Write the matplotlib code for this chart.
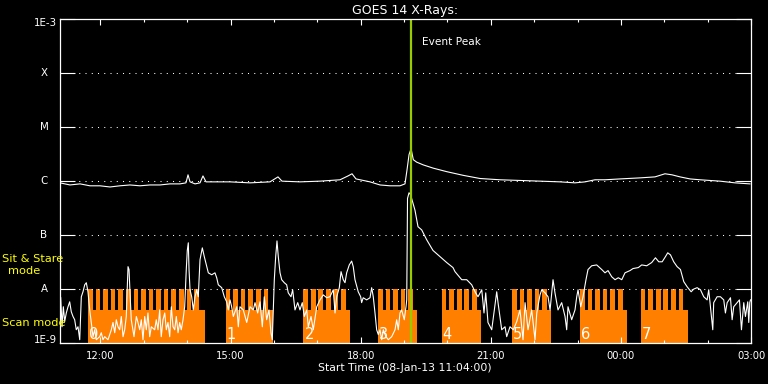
import numpy as np
import matplotlib
matplotlib.use("Agg")
import matplotlib.pyplot as plt
from matplotlib.ticker import NullLocator, FixedLocator
from matplotlib.transforms import blended_transform_factory, offset_copy

# ---------------- data ----------------
# time in minutes after start (08-Jan-13 11:04:00)
long_t = [0, 13.8, 27.7, 41.5, 55.3, 69.2, 83.0, 96.8, 110.7, 124.5, 138.4, 152.2, 166.0,
          174.3, 177.1, 179.9, 186.8, 193.7, 197.8, 202.0, 214.4, 235.2, 262.9, 290.5,
          301.6, 307.1, 332.0, 359.7, 387.4, 398.5, 404.0, 409.5, 428.9, 442.7, 456.6,
          470.4, 477.3, 480.1, 482.9, 485.7, 488.8, 493.5, 502.6, 516.5, 535.0, 558.0,
          581.1, 608.8, 636.4, 664.1, 691.8, 712.5, 726.3, 740.2, 754.0, 774.8, 802.4,
          823.2, 837.0, 846.7, 857.8, 871.6, 885.5, 913.1, 933.8, 954.6]
long_flux = [9.3e-7, 8.5e-7, 8.9e-7, 8.2e-7, 8.2e-7, 7.8e-7, 8.2e-7, 8.5e-7, 8.2e-7, 8.5e-7,
             8.5e-7, 8.9e-7, 8.9e-7, 9.3e-7, 1.31e-6, 9.7e-7, 8.9e-7, 9.3e-7, 1.25e-6,
             9.7e-7, 9.7e-7, 9.7e-7, 9.3e-7, 9.7e-7, 1.2e-6, 1.0e-6, 9.7e-7, 1.0e-6,
             1.06e-6, 1.25e-6, 1.37e-6, 1.1e-6, 9.7e-7, 8.5e-7, 8.2e-7, 8.2e-7, 8.9e-7,
             1.62e-6, 3.1e-6, 4.0e-6, 2.5e-6, 2.25e-6, 2.0e-6, 1.74e-6, 1.5e-6, 1.28e-6,
             1.12e-6, 1.06e-6, 1.03e-6, 1.0e-6, 9.7e-7, 9.3e-7, 9.7e-7, 1.06e-6, 1.06e-6,
             1.1e-6, 1.15e-6, 1.2e-6, 1.37e-6, 1.31e-6, 1.2e-6, 1.1e-6, 1.06e-6, 1.0e-6,
             9.3e-7, 8.9e-7]

short_t = [1.0, 2.8, 4.6, 6.5, 8.7, 11.1, 13.4, 15.6, 18.0, 20.3, 22.5, 24.9, 27.3, 29.5,
           31.8, 34.2, 36.4, 38.7, 41.1, 43.3, 45.7, 48.0, 50.2, 54.9, 57.1, 59.5, 61.9,
           66.4, 71.0, 73.3, 75.7, 77.9, 80.2, 82.6, 84.8, 87.2, 89.5, 91.7, 94.1, 95.5,
           96.8, 98.6, 102.4, 105.6, 107.9, 110.3, 112.5, 114.8, 117.2, 119.4, 121.7,
           124.1, 126.3, 131.0, 133.2, 135.6, 137.9, 140.1, 142.5, 144.9, 147.1, 149.4,
           151.8, 154.0, 156.4, 158.7, 160.9, 163.3, 165.6, 167.8, 170.2, 172.5, 174.7,
           176.1, 177.5, 178.5, 179.9, 182.2, 184.4, 186.8, 189.1, 191.3, 193.7, 196.9,
           199.6, 203.0, 205.2, 209.9, 214.4, 216.8, 219.0, 223.7, 227.3, 230.6, 232.8,
           235.2, 237.5, 239.8, 244.5, 246.7, 249.0, 253.6, 258.3, 262.9, 267.4, 269.8,
           273.5, 276.7, 279.9, 282.6, 285.9, 289.1, 291.9, 293.7, 296.5, 298.4, 300.2,
           302.0, 304.4, 306.7, 310.3, 313.6, 315.8, 319.6, 321.9, 325.1, 328.9, 332.0,
           335.2, 338.0, 341.3, 343.5, 347.3, 350.4, 355.2, 359.7, 364.3, 369.0, 373.5,
           378.1, 380.5, 382.8, 386.4, 388.8, 391.9, 394.3, 396.6, 400.2, 403.5, 405.7,
           408.1, 412.6, 416.0, 417.3, 419.5, 424.2, 428.9, 431.2, 433.4, 435.8, 438.1,
           440.4, 442.7, 445.1, 447.3, 451.0, 454.2, 458.9, 463.5, 465.8, 468.0, 470.4,
           472.7, 476.3, 478.7, 479.7, 480.8, 482.9, 485.0, 487.5, 491.1, 495.3, 500.4,
           507.3, 516.0, 525.7, 535.0, 543.7, 546.5, 555.8, 562.7, 569.6, 574.2, 578.3,
           583.5, 586.6, 589.0, 592.1, 597.3, 604.2, 606.0, 611.1, 615.7, 618.0, 622.6,
           627.2, 631.9, 636.4, 640.6, 643.4, 647.5, 652.6, 657.2, 659.6, 664.1, 666.5,
           671.1, 675.2, 678.0, 682.1, 684.8, 689.0, 694.1, 698.7, 701.0, 702.8, 707.9,
           712.5, 714.9, 716.7, 720.4, 723.6, 727.7, 730.5, 735.6, 742.5, 749.5, 754.0,
           758.2, 763.3, 767.9, 772.4, 777.2, 781.7, 788.6, 792.8, 800.1, 804.8, 811.7,
           818.6, 823.8, 828.4, 833.1, 837.7, 840.8, 844.6, 849.1, 853.8, 858.4, 863.0,
           867.7, 873.2, 876.8, 881.5, 886.1, 890.6, 895.3, 897.5, 899.9, 903.1, 904.4,
           909.1, 913.7, 918.3, 920.6, 923.0, 927.6, 929.9, 932.1, 936.8, 940.0, 942.8,
           946.0, 948.3, 951.5, 952.9, 954.3, 955.3]
short_flux = [6.9e-9, 2.0e-9, 4.7e-9, 2.5e-9, 3.6e-9, 4.7e-9, 5.8e-9, 3.8e-9, 3.1e-9, 2.7e-9,
              1.76e-9, 2.0e-9, 1.15e-9, 7.2e-9, 8.9e-9, 1.2e-8, 1.31e-8, 8.9e-9, 4.1e-9,
              2.4e-9, 1.31e-9, 1.76e-9, 1.15e-9, 1.31e-9, 1.55e-9, 1.15e-9, 1.31e-9, 1.15e-9,
              1.76e-9, 2.4e-9, 1.55e-9, 2.7e-9, 2.0e-9, 1.76e-9, 3.1e-9, 1.31e-9, 1.76e-9,
              3.1e-9, 2.6e-8, 2.3e-8, 8.9e-9, 2.7e-9, 1.31e-9, 3.1e-9, 2.4e-9, 1.76e-9,
              2.7e-9, 1.15e-9, 3.1e-9, 1.76e-9, 3.6e-9, 1.31e-9, 2.0e-9, 1.76e-9, 2.7e-9,
              1.76e-9, 4.1e-9, 1.31e-9, 2.7e-9, 3.6e-9, 1.76e-9, 2.4e-9, 1.31e-9, 4.7e-9,
              2.0e-9, 1.76e-9, 3.1e-9, 1.55e-9, 2.4e-9, 1.76e-9, 2.7e-9, 4.7e-9, 2.3e-8,
              5.2e-8, 7.2e-8, 2.3e-8, 9.7e-9, 7.2e-9, 4.1e-9, 7.2e-9, 9.7e-9, 7.2e-9, 3.5e-8,
              5.8e-8, 4.0e-8, 2.6e-8, 2.0e-8, 1.84e-8, 2.0e-8, 1.62e-8, 1.2e-8, 1.06e-8,
              7.2e-9, 5.8e-9, 4.1e-9, 6.3e-9, 4.7e-9, 3.1e-9, 4.7e-9, 2.0e-9, 4.7e-9, 4.1e-9,
              2.4e-9, 4.7e-9, 4.1e-9, 5.6e-9, 3.6e-9, 5.8e-9, 2.0e-9, 7.2e-9, 2.7e-9, 4.1e-9,
              1.55e-9, 1.15e-9, 1.49e-8, 4.0e-8, 7.8e-8, 4.0e-8, 2.0e-8, 1.49e-8, 1.31e-8,
              1.2e-8, 8.5e-9, 7.2e-9, 9.7e-9, 4.1e-9, 5.6e-9, 4.1e-9, 5.6e-9, 3.1e-9, 4.1e-9,
              2.0e-9, 3.1e-9, 1.76e-9, 4.7e-9, 6.3e-9, 7.8e-9, 6.9e-9, 7.2e-9, 9.7e-9, 3.6e-9,
              7.2e-9, 1.06e-8, 2.1e-8, 1.49e-8, 1.31e-8, 2.0e-8, 2.8e-8, 3.3e-8, 2.6e-8,
              1.49e-8, 8.9e-9, 7.2e-9, 5.6e-9, 6.9e-9, 6.3e-9, 6.9e-9, 1.06e-8, 7.2e-9,
              3.6e-9, 1.76e-9, 1.43e-9, 1.76e-9, 1.15e-9, 1.76e-9, 1.31e-9, 1.15e-9, 1.31e-9,
              1.76e-9, 2.7e-9, 1.76e-9, 3.6e-9, 4.1e-9, 2.7e-9, 4.7e-9, 6.3e-9, 4.8e-7,
              6.1e-7, 5.6e-7, 4.3e-7, 2.9e-7, 1.43e-7, 1.25e-7, 8.2e-8, 5.2e-8, 4.0e-8,
              3.1e-8, 2.5e-8, 2.1e-8, 1.49e-8, 1.49e-8, 1.2e-8, 8.9e-9, 7.2e-9, 9.7e-9,
              3.6e-9, 8.5e-9, 2.4e-9, 1.76e-9, 8.9e-9, 5.6e-9, 1.76e-9, 2.0e-9, 1.31e-9,
              2.0e-9, 1.76e-9, 2.5e-9, 4.1e-9, 1.15e-9, 5.6e-9, 1.76e-9, 4.1e-9, 1.15e-9,
              3.6e-9, 7.8e-9, 9.7e-9, 8.5e-9, 7.2e-9, 4.1e-9, 1.49e-8, 8.5e-9, 4.1e-9,
              5.6e-9, 3.1e-9, 1.76e-9, 4.7e-9, 2.7e-9, 4.1e-9, 7.2e-9, 9.7e-9, 4.7e-9,
              7.2e-9, 1.49e-8, 2.3e-8, 2.7e-8, 2.8e-8, 2.3e-8, 2.0e-8, 2.2e-8, 1.69e-8,
              1.49e-8, 1.62e-8, 1.49e-8, 2.0e-8, 2.2e-8, 2.4e-8, 2.5e-8, 2.8e-8, 2.7e-8,
              3.1e-8, 3.8e-8, 3.2e-8, 3.2e-8, 4.0e-8, 4.7e-8, 4.3e-8, 3.2e-8, 2.6e-8, 2.3e-8,
              1.37e-8, 1.1e-8, 8.9e-9, 1.0e-8, 1.06e-8, 9.7e-9, 7.2e-9, 6.3e-9, 9.7e-9,
              4.7e-9, 1.76e-9, 5.6e-9, 7.2e-9, 7.2e-9, 6.3e-9, 3.6e-9, 5.6e-9, 6.9e-9,
              2.7e-9, 4.7e-9, 5.6e-9, 6.3e-9, 1.76e-9, 5.6e-9, 3.1e-9, 5.8e-9, 2.4e-9,
              5.6e-9, 6.3e-9]

# observation blocks (minutes after start)
block_labels = ["0", "1", "2", "3", "4", "5", "6", "7"]
block_start = [38.7, 229.2, 336.6, 440.0, 528.1, 625.3, 719.4, 803.4]
block_end = [200.6, 294.3, 401.2, 493.5, 582.0, 679.3, 784.0, 868.4]
block_teeth = [15, 6, 6, 5, 5, 5, 6, 6]
scan_level = 4.1e-9      # top of "scan mode" part
stare_level = 1.0e-8     # top of "sit & stare" part

event_peak = 485.2       # minutes after start
xtick_pos = [56, 236, 416, 596, 776, 956]
xtick_labels = ["12:00", "15:00", "18:00", "21:00", "00:00", "03:00"]
ytick_pos = [1e-3, 1e-4, 1e-5, 1e-6, 1e-7, 1e-8, 1e-9]
ytick_labels = ["1E-3", "X", "M", "C", "B", "A", "1E-9"]

# ---------------- figure ----------------
W, H = 768, 384
fig = plt.figure(figsize=(W / 100, H / 100), dpi=100, facecolor="black")
ax = fig.add_axes([60 / W, 1 - 343 / H, 691 / W, 323.7 / H])
ax.set_facecolor("black")
ax.set_yscale("log")
ax.set_ylim(1e-9, 1e-3)
ax.set_xlim(0, 956)

orange = "#ff8000"
period = 10.5
tooth_w = 6.4
for s, e, n in zip(block_start, block_end, block_teeth):
    ax.bar(s, scan_level - 1e-9, width=e - s, bottom=1e-9, align="edge",
           color=orange, linewidth=0, zorder=1)
    for k in range(n):
        ax.bar(s + k * period, stare_level - 1e-9, width=tooth_w, bottom=1e-9,
               align="edge", color=orange, linewidth=0, zorder=1)

for lab, s in zip(block_labels, block_start):
    ax.text(s + 1.5, 1.2e-9, lab, color="white", fontsize=10.5, ha="left",
            va="baseline", zorder=5)

# dotted reference lines
for yv in ytick_pos[1:-1]:
    ax.axhline(yv, color="white", lw=0.75, ls=(0, (1, 5)), zorder=2)

ax.plot(long_t, long_flux, color="white", lw=0.8, zorder=3)
ax.plot(short_t, short_flux, color="white", lw=0.8, zorder=3)

ax.axvline(event_peak, color="#99cc00", lw=1.6, zorder=6)
ax.text(event_peak + 15, 10 ** (-3.43), "Event Peak", color="white", fontsize=7.6,
        ha="left", va="center")

# axes styling
for sp in ax.spines.values():
    sp.set_color("white")
    sp.set_linewidth(0.9)
    sp.set_zorder(7)

ax.yaxis.set_major_locator(FixedLocator(ytick_pos))
ax.yaxis.set_minor_locator(NullLocator())
ax.set_yticklabels([])
ax.tick_params(axis="y", which="major", direction="in", length=10.8, width=0.8,
               color="white", left=True, right=True)

ax.set_xticks(xtick_pos)
ax.set_xticklabels(xtick_labels)
ax.xaxis.set_minor_locator(FixedLocator([56 + 60 * k for k in range(16)]))
ax.tick_params(axis="x", which="major", direction="in", length=4.3, width=0.8,
               color="white", top=True, bottom=True, labelcolor="white",
               labelsize=7.2, pad=6)
ax.tick_params(axis="x", which="minor", direction="in", length=2.2, width=0.8,
               color="white", top=True, bottom=True)

trans = blended_transform_factory(ax.transAxes, ax.transData)
for yv, lab in zip(ytick_pos, ytick_labels):
    if lab.startswith("1E"):
        dy = -3.7 if yv == 1e-3 else 2.7
        t = offset_copy(trans, fig=fig, y=dy, units="dots")
        ax.text(-0.0043, yv, lab, transform=t, color="white", fontsize=7.4,
                ha="right", va="center")
    else:
        ax.text(-0.0232, yv, lab, transform=trans, color="white", fontsize=7.4,
                ha="center", va="center")

ax.set_title("GOES 14 X-Rays:", color="white", fontsize=9, pad=4)
fig.text(405 / W, 1 - 368 / H, "Start Time (08-Jan-13 11:04:00)", color="white",
         fontsize=7.8, ha="center", va="center")

yellow = "#ffff00"
fig.text(2 / W, 1 - 259 / H, "Sit & Stare", color=yellow, fontsize=8.2,
         ha="left", va="center")
fig.text(24.3 / W, 1 - 271.5 / H, "mode", color=yellow, fontsize=8.2,
         ha="center", va="center")
fig.text(2 / W, 1 - 323.5 / H, "Scan mode", color=yellow, fontsize=8.2,
         ha="left", va="center")

fig.savefig("out.png", dpi=100, facecolor="black")
